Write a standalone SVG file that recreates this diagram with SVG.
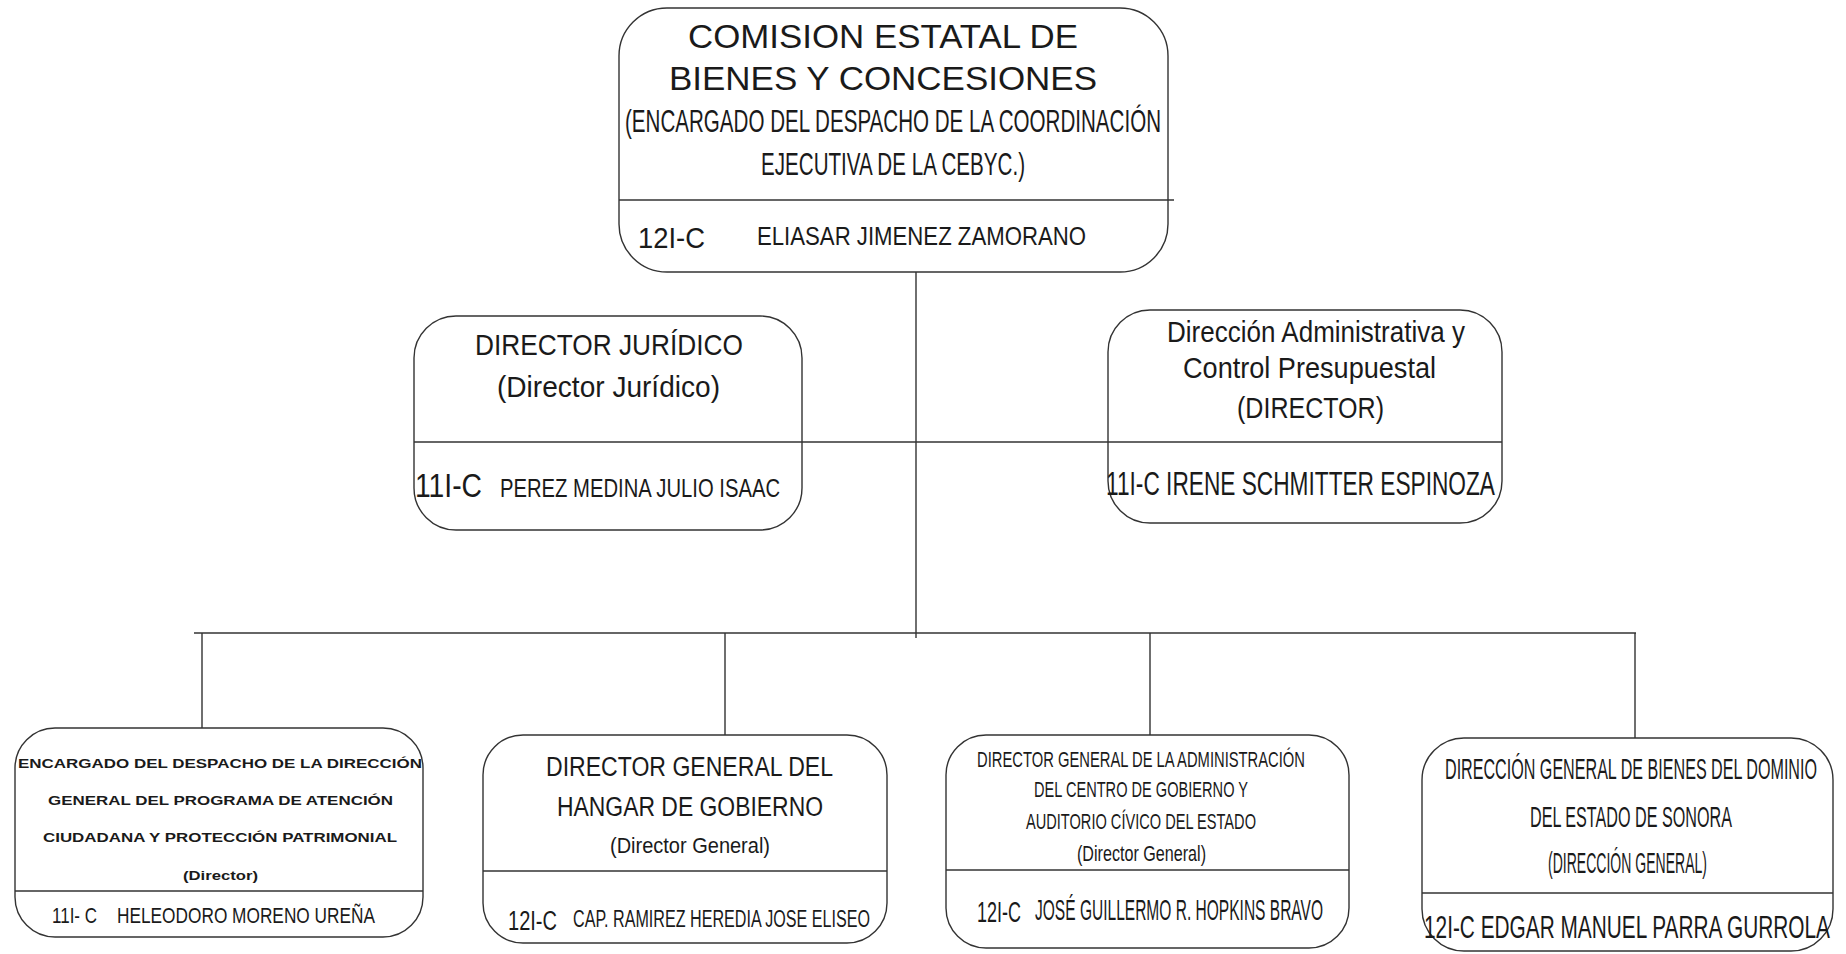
<svg xmlns="http://www.w3.org/2000/svg" width="1846" height="954" viewBox="0 0 1846 954">
<style>
.box{fill:#fff;stroke:#333;stroke-width:1.4}
.div{stroke:#333;stroke-width:1.4;fill:none}
.ln{stroke:#333;stroke-width:1.4;fill:none}
.t{font-family:"Liberation Sans",Arial,sans-serif;fill:#1a1a1a}
.b{font-weight:bold}
</style>
<rect width="1846" height="954" fill="#fff"/>
<g id="connectors">
<path class="ln" d="M916 272V638"/>
<path class="ln" d="M194 633H1636" stroke-width="2"/>
<path class="ln" d="M202 633V728M725 633V735M1150 633V735M1635 633V738"/>
<path class="ln" d="M802 442H1108"/>
</g>
<g id="node-comision">
<rect class="box" x="619" y="8" width="549" height="264" rx="48"/>
<path class="div" d="M619 200H1174"/>
<text class="t" x="688" y="48" font-size="34" textLength="390" lengthAdjust="spacingAndGlyphs">COMISION ESTATAL DE</text>
<text class="t" x="669" y="90" font-size="34" textLength="428" lengthAdjust="spacingAndGlyphs">BIENES Y CONCESIONES</text>
<text class="t" x="625" y="132" font-size="31" textLength="536" lengthAdjust="spacingAndGlyphs">(ENCARGADO DEL DESPACHO DE LA COORDINACIÓN</text>
<text class="t" x="761" y="175" font-size="31" textLength="264" lengthAdjust="spacingAndGlyphs">EJECUTIVA DE LA CEBYC.)</text>
<text class="t" x="638" y="248" font-size="29" textLength="67" lengthAdjust="spacingAndGlyphs">12I-C</text>
<text class="t" x="757" y="245" font-size="26" textLength="329" lengthAdjust="spacingAndGlyphs">ELIASAR JIMENEZ ZAMORANO</text>
</g>
<g id="node-juridico">
<rect class="box" x="414" y="316" width="388" height="214" rx="42"/>
<path class="div" d="M414 442H802"/>
<text class="t" x="475" y="355" font-size="30" textLength="268" lengthAdjust="spacingAndGlyphs">DIRECTOR JURÍDICO</text>
<text class="t" x="497" y="397" font-size="29" textLength="223" lengthAdjust="spacingAndGlyphs">(Director Jurídico)</text>
<text class="t" x="415" y="497" font-size="34" textLength="67" lengthAdjust="spacingAndGlyphs">11I-C</text>
<text class="t" x="500" y="497" font-size="26" textLength="280" lengthAdjust="spacingAndGlyphs">PEREZ MEDINA JULIO ISAAC</text>
</g>
<g id="node-administrativa">
<rect class="box" x="1108" y="310" width="394" height="213" rx="42"/>
<path class="div" d="M1108 442H1502"/>
<text class="t" x="1167" y="342" font-size="30" textLength="298" lengthAdjust="spacingAndGlyphs">Dirección Administrativa y</text>
<text class="t" x="1183" y="378" font-size="30" textLength="253" lengthAdjust="spacingAndGlyphs">Control Presupuestal</text>
<text class="t" x="1237" y="418" font-size="30" textLength="147" lengthAdjust="spacingAndGlyphs">(DIRECTOR)</text>
<text class="t" x="1106" y="495" font-size="33" textLength="389" lengthAdjust="spacingAndGlyphs">11I-C  IRENE SCHMITTER ESPINOZA</text>
</g>
<g id="node-atencion">
<rect class="box" x="15" y="728" width="408" height="209" rx="40"/>
<path class="div" d="M15 891H423"/>
<text class="t b" x="18" y="768" font-size="12.5" textLength="404" lengthAdjust="spacingAndGlyphs">ENCARGADO DEL DESPACHO DE LA DIRECCIÓN</text>
<text class="t b" x="48" y="805" font-size="12.5" textLength="345" lengthAdjust="spacingAndGlyphs">GENERAL DEL PROGRAMA DE ATENCIÓN</text>
<text class="t b" x="43" y="842" font-size="12.5" textLength="354" lengthAdjust="spacingAndGlyphs">CIUDADANA Y PROTECCIÓN PATRIMONIAL</text>
<text class="t b" x="183" y="880" font-size="12.5" textLength="75" lengthAdjust="spacingAndGlyphs">(Director)</text>
<text class="t" x="52" y="923" font-size="22" textLength="45" lengthAdjust="spacingAndGlyphs">11I- C</text>
<text class="t" x="117" y="923" font-size="22" textLength="258" lengthAdjust="spacingAndGlyphs">HELEODORO MORENO UREÑA</text>
</g>
<g id="node-hangar">
<rect class="box" x="483" y="735" width="404" height="208" rx="40"/>
<path class="div" d="M483 871H887"/>
<text class="t" x="546" y="776" font-size="27" textLength="287" lengthAdjust="spacingAndGlyphs">DIRECTOR GENERAL DEL</text>
<text class="t" x="557" y="816" font-size="27" textLength="266" lengthAdjust="spacingAndGlyphs">HANGAR DE GOBIERNO</text>
<text class="t" x="610" y="853" font-size="22" textLength="160" lengthAdjust="spacingAndGlyphs">(Director General)</text>
<text class="t" x="508" y="930" font-size="27" textLength="49" lengthAdjust="spacingAndGlyphs">12I-C</text>
<text class="t" x="573" y="927" font-size="23" textLength="297" lengthAdjust="spacingAndGlyphs">CAP. RAMIREZ HEREDIA JOSE ELISEO</text>
</g>
<g id="node-centro">
<rect class="box" x="946" y="735" width="403" height="213" rx="40"/>
<path class="div" d="M946 870H1349"/>
<text class="t" x="977" y="767" font-size="22" textLength="328" lengthAdjust="spacingAndGlyphs">DIRECTOR GENERAL  DE LA ADMINISTRACIÓN</text>
<text class="t" x="1034" y="797" font-size="22" textLength="214" lengthAdjust="spacingAndGlyphs">DEL CENTRO DE GOBIERNO Y</text>
<text class="t" x="1026" y="829" font-size="22" textLength="230" lengthAdjust="spacingAndGlyphs">AUDITORIO CÍVICO DEL ESTADO</text>
<text class="t" x="1077" y="861" font-size="22" textLength="129" lengthAdjust="spacingAndGlyphs">(Director General)</text>
<text class="t" x="977" y="922" font-size="30" textLength="44" lengthAdjust="spacingAndGlyphs">12I-C</text>
<text class="t" x="1035" y="920" font-size="30" textLength="288" lengthAdjust="spacingAndGlyphs">JOSÉ GUILLERMO R. HOPKINS BRAVO</text>
</g>
<g id="node-bienes">
<rect class="box" x="1422" y="738" width="411" height="213" rx="42"/>
<path class="div" d="M1422 893H1833"/>
<text class="t" x="1445" y="779" font-size="29" textLength="372" lengthAdjust="spacingAndGlyphs">DIRECCIÓN GENERAL DE BIENES DEL DOMINIO</text>
<text class="t" x="1530" y="827" font-size="29" textLength="202" lengthAdjust="spacingAndGlyphs">DEL ESTADO DE SONORA</text>
<text class="t" x="1548" y="873" font-size="29" textLength="159" lengthAdjust="spacingAndGlyphs">(DIRECCIÓN GENERAL)</text>
<text class="t" x="1424" y="938" font-size="32" textLength="406" lengthAdjust="spacingAndGlyphs">12I-C EDGAR MANUEL PARRA GURROLA</text>
</g>
</svg>
